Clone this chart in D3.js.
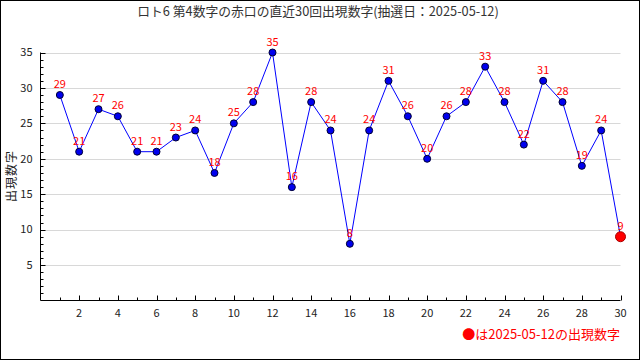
<!DOCTYPE html>
<html><head><meta charset="utf-8">
<script src="https://cdn.jsdelivr.net/npm/d3@7"></script>
<style>body{margin:0;background:#fff}svg{display:block}</style>
</head><body>
<svg id="c" width="640" height="360"></svg>
<script>
const title = "ロト6 第4数字の赤口の直近30回出現数字(抽選日：2025-05-12)";
const draws = d3.range(1, 31);
const values = [29,21,27,26,21,21,23,24,18,25,28,35,16,28,24,8,24,31,26,20,26,28,33,28,22,31,28,19,24,9];
const yTicks = [5,10,15,20,25,30,35];
const xTicks = [2,4,6,8,10,12,14,16,18,20,22,24,26,28,30];
const yLabel = "出現数字";
const legendText = "●は2025-05-12の出現数字";

const font = "'Noto Sans CJK JP', 'DejaVu Sans', sans-serif";
const svg = d3.select("#c");
svg.append("rect").attr("x",0.5).attr("y",0.5).attr("width",639).attr("height",359)
  .attr("fill","#fff").attr("stroke","#000");

const x = d3.scaleLinear().domain([0,30]).range([40.5,620.5]);
const y = d3.scaleLinear().domain([0,35]).range([300.5,52.5]);

// gridlines
svg.append("g").selectAll("line").data(yTicks).join("line")
  .attr("x1",x(0)).attr("x2",x(30)).attr("y1",d=>Math.round(y(d))+0.5).attr("y2",d=>Math.round(y(d))+0.5)
  .attr("stroke","#d8d8d8");

// y axis
const ya = svg.append("g");
ya.append("line").attr("x1",x(0)).attr("x2",x(0)).attr("y1",y(0)).attr("y2",y(35)).attr("stroke","#000");
ya.selectAll("line.t").data(d3.range(1,36)).join("line").attr("class","t")
  .attr("x1",x(0)).attr("x2",d=>x(0)+(d%5===0?5:3))
  .attr("y1",d=>Math.round(y(d))+0.5).attr("y2",d=>Math.round(y(d))+0.5).attr("stroke","#000");
ya.selectAll("text").data(yTicks).join("text")
  .attr("x",x(0)-8).attr("y",d=>y(d)).attr("dy","0.35em").attr("text-anchor","end")
  .attr("font-family",font).attr("font-size",11).attr("fill","#222").text(d=>d);

// x axis
const xa = svg.append("g");
xa.append("line").attr("x1",x(0)).attr("x2",x(30)).attr("y1",y(0)).attr("y2",y(0)).attr("stroke","#000");
xa.selectAll("line.t").data(draws).join("line").attr("class","t")
  .attr("x1",d=>Math.round(x(d))+0.5).attr("x2",d=>Math.round(x(d))+0.5)
  .attr("y1",y(0)).attr("y2",d=>y(0)-(d%2===0?5:3)).attr("stroke","#000");
xa.selectAll("text").data(xTicks).join("text")
  .attr("x",d=>x(d)).attr("y",y(0)+16).attr("text-anchor","middle")
  .attr("font-family",font).attr("font-size",11).attr("fill","#222").text(d=>d);

// title
svg.append("text").attr("x",318).attr("y",16).attr("text-anchor","middle")
  .attr("font-family",font).attr("font-size",12.8).attr("fill","#333").text(title);

// y label
svg.append("text").attr("transform",`translate(16,176) rotate(-90)`).attr("text-anchor","middle")
  .attr("font-family",font).attr("font-size",12).attr("letter-spacing",1).attr("fill","#222").text(yLabel);

// line
const data = draws.map((d,i)=>({d, v: values[i]}));
svg.append("path").datum(data)
  .attr("d", d3.line().x(p=>x(p.d)).y(p=>y(p.v)))
  .attr("fill","none").attr("stroke","#0000ff").attr("stroke-width",1);

// points
svg.append("g").selectAll("circle").data(data).join("circle")
  .attr("cx",p=>x(p.d)).attr("cy",p=>y(p.v))
  .attr("r",(p,i)=>i===data.length-1?5:3.5)
  .attr("fill",(p,i)=>i===data.length-1?"#ff0000":"#0000ee")
  .attr("stroke",(p,i)=>i===data.length-1?"#aa0000":"#000033").attr("stroke-width",1);

// value labels
svg.append("g").selectAll("text").data(data).join("text")
  .attr("x",p=>x(p.d)).attr("y",p=>y(p.v)-7).attr("text-anchor","middle")
  .attr("font-family",font).attr("font-size",11).attr("fill","#ff0000").text(p=>p.v);

// legend
svg.append("text").attr("x",620).attr("y",339).attr("text-anchor","end")
  .attr("font-family",font).attr("font-size",13).attr("fill","#ff0000").text(legendText);
</script>
</body></html>
